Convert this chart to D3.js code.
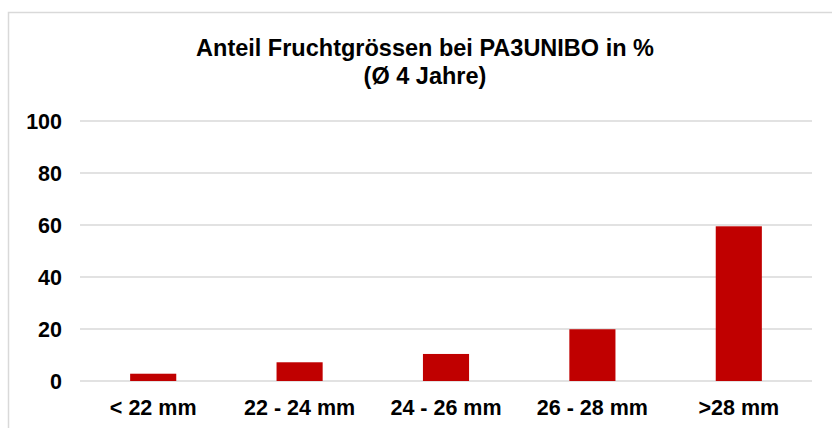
<!DOCTYPE html>
<html>
<head>
<meta charset="utf-8">
<script src="https://cdn.jsdelivr.net/npm/d3@7"></script>
<style>
  body { margin: 0; background: #fff; }
  svg text { font-family: "Liberation Sans", Arial, sans-serif; font-weight: bold; fill: #000; }
</style>
</head>
<body>
<svg id="chart" width="832" height="428"></svg>
<script>
var categories = ["< 22 mm", "22 - 24 mm", "24 - 26 mm", "26 - 28 mm", ">28 mm"];
var values = [2.8, 7.2, 10.4, 19.9, 59.5];
var yTicks = [0, 20, 40, 60, 80, 100];
var titleLines = ["Anteil Fruchtgrössen bei PA3UNIBO in %", "(Ø 4 Jahre)"];

var width = 832, height = 428;
var margin = {top: 121, right: 20, bottom: 47, left: 80};

var svg = d3.select("#chart");

// outer chart frame (runs off the right and bottom edge)
svg.append("rect")
  .attr("x", 8.5).attr("y", 12.5)
  .attr("width", 900).attr("height", 500)
  .attr("fill", "#fff")
  .attr("stroke", "#d9d9d9")
  .attr("stroke-width", 1.5);

var x = d3.scaleBand()
  .domain(categories)
  .range([margin.left, width - margin.right])
  .paddingInner(0.685)
  .paddingOuter(0.3425);

var y = d3.scaleLinear()
  .domain([0, 100])
  .range([height - margin.bottom, margin.top]);

// gridlines
svg.append("g")
  .selectAll("line")
  .data(yTicks)
  .enter().append("line")
    .attr("x1", margin.left)
    .attr("x2", width - margin.right)
    .attr("y1", function(d) { return y(d); })
    .attr("y2", function(d) { return y(d); })
    .attr("stroke", "#d9d9d9")
    .attr("stroke-width", 1.5);

// y labels
var yAxis = svg.append("g")
  .attr("transform", "translate(" + (margin.left - 18) + ",0)")
  .call(d3.axisLeft(y).tickValues(yTicks).tickSize(0).tickPadding(0));
yAxis.select(".domain").remove();
yAxis.selectAll("text")
  .style("font-size", "21.5px")
  .attr("dy", "0.36em");

// bars
svg.selectAll(".bar")
  .data(values)
  .enter().append("rect")
    .attr("class", "bar")
    .attr("x", function(d, i) { return x(categories[i]); })
    .attr("y", function(d) { return y(d); })
    .attr("width", x.bandwidth())
    .attr("height", function(d) { return y(0) - y(d); })
    .attr("fill", "#c00000");

// x labels
var xAxis = svg.append("g")
  .attr("transform", "translate(0," + (y(0) + 34) + ")")
  .call(d3.axisBottom(x).tickSize(0).tickPadding(0));
xAxis.select(".domain").remove();
xAxis.selectAll("text")
  .style("font-size", "21.5px")
  .attr("dy", "0");

// title
svg.append("text")
  .attr("x", 425)
  .attr("text-anchor", "middle")
  .style("font-size", "23.5px")
  .selectAll("tspan")
  .data(titleLines)
  .enter().append("tspan")
    .attr("x", 425)
    .attr("y", function(d, i) { return 56 + i * 28; })
    .text(function(d) { return d; });
</script>
</body>
</html>
